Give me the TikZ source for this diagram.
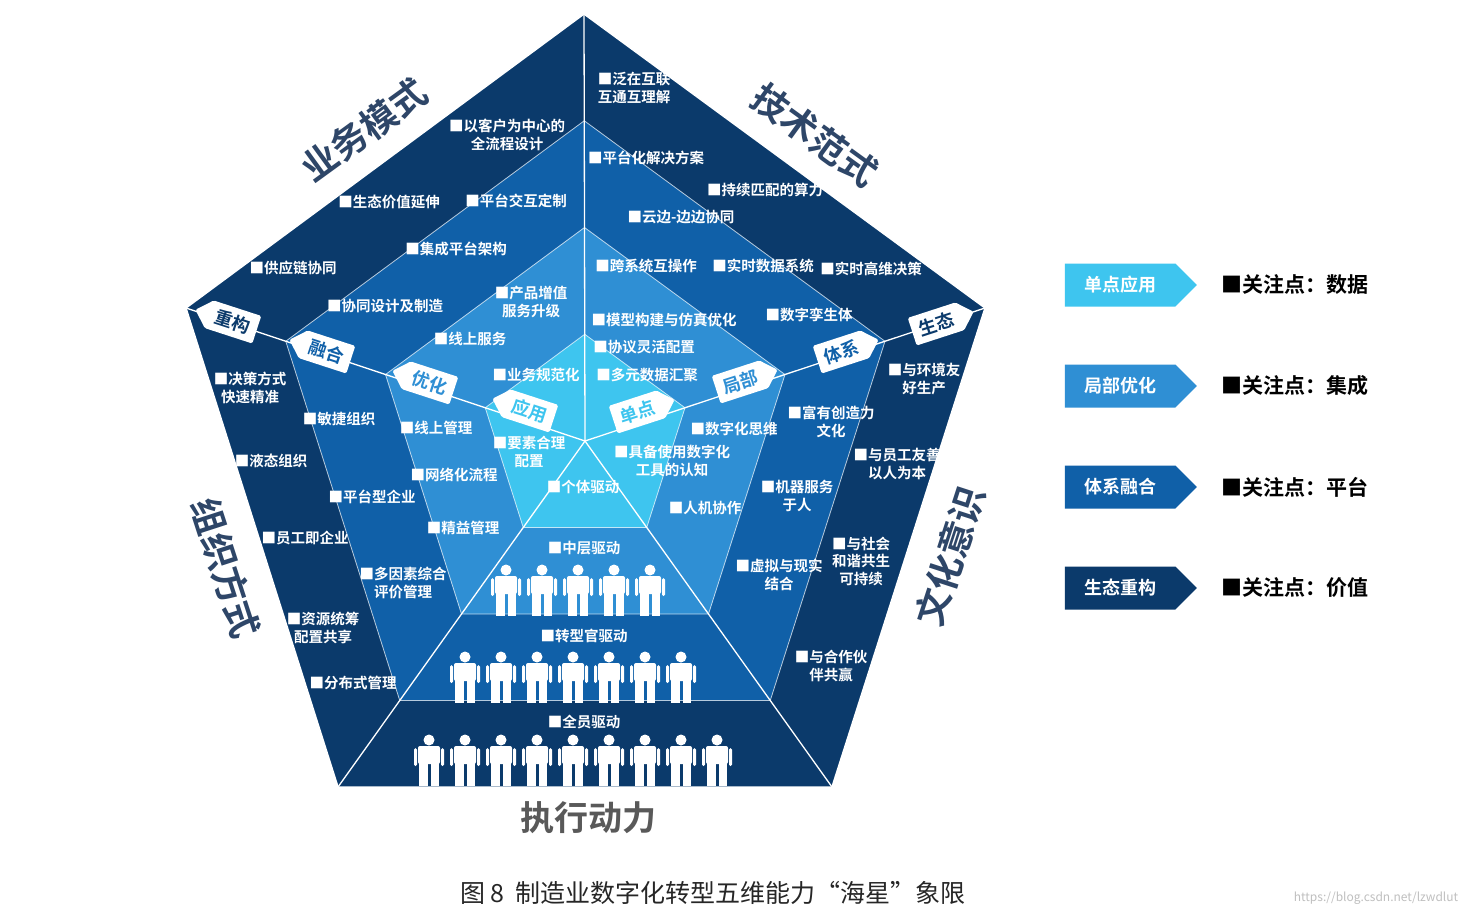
\documentclass[tikz,border=0pt]{standalone}
\usepackage{fontspec}
\setmainfont{Noto Sans CJK SC}
\newfontfamily\cjkb{Noto Sans CJK SC}[BoldFont={* Bold}]
\usetikzlibrary{calc,shapes.symbols}
\definecolor{cA}{HTML}{0B3A6B}
\definecolor{cB}{HTML}{1060A8}
\definecolor{cC}{HTML}{2F8FD4}
\definecolor{cD}{HTML}{3EC5EF}
\definecolor{ttl}{HTML}{2E4668}
\begin{document}
\begin{tikzpicture}[x=1pt,y=-1pt,
  lb/.style={text=white,font=\cjkb\bfseries\fontsize{14.5}{17.5}\selectfont,align=center,inner sep=0pt},
  ttlS/.style={text=ttl,font=\cjkb\bfseries\fontsize{36}{36}\selectfont,inner sep=0pt},
  tagL/.style={shape=signal,signal to=west,fill=white,rotate=-18,font=\cjkb\bfseries\fontsize{18}{18}\selectfont,inner xsep=7pt,inner ysep=5pt,minimum height=29pt,rounded corners=1.5pt},
  tagR/.style={shape=signal,signal to=east,fill=white,rotate=18,font=\cjkb\bfseries\fontsize{18}{18}\selectfont,inner xsep=7pt,inner ysep=5pt,minimum height=29pt,rounded corners=1.5pt},
  leg/.style={shape=signal,signal to=east,signal pointer angle=90,minimum width=132pt,minimum height=43pt,text=white,font=\cjkb\bfseries\fontsize{18}{18}\selectfont,inner sep=0pt},
  legt/.style={font=\cjkb\bfseries\fontsize{21}{21}\selectfont,anchor=west,inner sep=0pt},
  person/.pic={\fill[white] (0,-20) circle (5.5);
    \fill[white,rounded corners=2pt] (-11,-14) rectangle (11,4);
    \fill[white,rounded corners=1.5pt] (-15,-12) rectangle (-12,6);
    \fill[white,rounded corners=1.5pt] (12,-12) rectangle (15,6);
    \fill[white] (-10,2) rectangle (-1.5,26);
    \fill[white] (1.5,2) rectangle (10,26);}
]
\useasboundingbox (0,0) rectangle (1462,916);
\fill[white] (0,0) rectangle (1462,916);
\coordinate (C) at (585,441);
\coordinate (V1) at (584,14);
\coordinate (V2) at (186,308);
\coordinate (V3) at (338,787);
\coordinate (V4) at (832,787);
\coordinate (V5) at (985,308);
\foreach \r/\c in {1/cA,0.75/cB,0.5/cC,0.25/cD}{
  \fill[\c] ($(C)!\r!(V1)$) -- ($(C)!\r!(V2)$) -- ($(C)!\r!(V3)$) -- ($(C)!\r!(V4)$) -- ($(C)!\r!(V5)$) -- cycle;
}
\foreach \r in {0.75,0.5,0.25}{
  \draw[white,line width=0.8pt,opacity=0.7] ($(C)!\r!(V1)$) -- ($(C)!\r!(V2)$) -- ($(C)!\r!(V3)$) -- ($(C)!\r!(V4)$) -- ($(C)!\r!(V5)$) -- cycle;
}
\foreach \v in {V1,V2,V3,V4,V5}{\draw[white,line width=1.3pt] (C) -- (\v);}
\draw[white,line width=1.5pt] (V1) -- (V2) -- (V3) -- (V4) -- (V5) -- cycle;

% tags
\node[tagL,text=cA] (t1) at (233,322) {重构};
\node[tagL,text=cB] (t2) at (327,352) {融合};
\node[tagL,text=cC] (t3) at (430,383) {优化};
\node[tagL,text=cD] (t4) at (530,411) {应用};
\node[tagR,text=cD] (t5) at (637,412) {单点};
\node[tagR,text=cC] (t6) at (740,382) {局部};
\node[tagR,text=cB] (t7) at (841,352) {体系};
\node[tagR,text=cA] (t8) at (936,324) {生态};

% titles
\node[ttlS,rotate=36] (T1) at (364,130) {业务模式};
\node[ttlS,rotate=-36] (T2) at (815,135) {技术范式};
\node[ttlS,rotate=72] (T3) at (950,556) {文化意识};
\node[ttlS,rotate=-72] (T4) at (226,568) {组织方式};
\node[font=\cjkb\bfseries\fontsize{34}{34}\selectfont,text=black!65] (T5) at (588,818) {执行动力};

% top-left
\node[lb] at (507,135) {■以客户为中心的\\全流程设计};
\node[lb] at (389,202) {■生态价值延伸};
\node[lb] at (516,201) {■平台交互定制};
\node[lb] at (456,249) {■集成平台架构};
\node[lb] at (293,268) {■供应链协同};
\node[lb] at (385,306) {■协同设计及制造};
\node[lb] at (531,302) {■产品增值\\服务升级};
\node[lb] at (470,339) {■线上服务};
\node[lb] at (536,375) {■业务规范化};
% top-right
\node[lb] at (634,88) {■泛在互联\\互通互理解};
\node[lb] at (646,158) {■平台化解决方案};
\node[lb] at (765,190) {■持续匹配的算力};
\node[lb] at (681,217) {■云边-边边协同};
\node[lb] at (646,266) {■跨系统互操作};
\node[lb] at (763,266) {■实时数据系统};
\node[lb] at (871,269) {■实时高维决策};
\node[lb] at (664,320) {■模型构建与仿真优化};
\node[lb] at (809,315) {■数字孪生体};
\node[lb] at (644,347) {■协议灵活配置};
\node[lb] at (647,375) {■多元数据汇聚};
% right
\node[lb] at (924,379) {■与环境友\\好生产};
\node[lb] at (831,422) {■富有创造力\\文化};
\node[lb] at (734,429) {■数字化思维};
\node[lb] at (672,461) {■具备使用数字化\\工具的认知};
\node[lb] at (897,464) {■与员工友善\\以人为本};
\node[lb] at (797,496) {■机器服务\\于人};
\node[lb] at (705,508) {■人机协作};
\node[lb] at (861,561) {■与社会\\和谐共生\\可持续};
\node[lb] at (779,575) {■虚拟与现实\\结合};
\node[lb] at (831,666) {■与合作伙\\伴共赢};
% left
\node[lb] at (250,388) {■决策方式\\快速精准};
\node[lb] at (339,419) {■敏捷组织};
\node[lb] at (436,428) {■线上管理};
\node[lb] at (271,461) {■液态组织};
\node[lb] at (529,452) {■要素合理\\配置};
\node[lb] at (454,475) {■网络化流程};
\node[lb] at (372,497) {■平台型企业};
\node[lb] at (305,538) {■员工即企业};
\node[lb] at (463,528) {■精益管理};
\node[lb] at (403,583) {■多因素综合\\评价管理};
\node[lb] at (323,628) {■资源统筹\\配置共享};
\node[lb] at (353,683) {■分布式管理};
% bottom
\node[lb] at (583,487) {■个体驱动};
\node[lb] at (584,548) {■中层驱动};
\node[lb] at (584,636) {■转型官驱动};
\node[lb] at (584,722) {■全员驱动};
\foreach \i in {-2,...,2}{\pic at ({578+\i*36},590) {person};}
\foreach \i in {-3,...,3}{\pic at ({573+\i*36},677) {person};}
\foreach \i in {-4,...,4}{\pic at ({573+\i*36},760) {person};}

% legend
\node[leg,fill=cD] (L1) at (1120,285) {单点应用};
\node[leg,fill=cC] (L2) at (1120,386) {局部优化};
\node[leg,fill=cB] (L3) at (1120,487) {体系融合};
\node[leg,fill=cA] (L4) at (1120,588) {生态重构};
\node[legt] at (1221,285) {■关注点：数据};
\node[legt] at (1221,386) {■关注点：集成};
\node[legt] at (1221,487) {■关注点：平台};
\node[legt] at (1221,588) {■关注点：价值};

\node[font=\fontsize{25}{25}\selectfont,text=black!85] (cap) at (713,893) {图 8\ \ 制造业数字化转型五维能力“海星”象限};
\node[font=\fontsize{12}{12}\selectfont,text=black!25] (wm) at (1376,898) {https://blog.csdn.net/lzwdlut};
\end{tikzpicture}
\end{document}
